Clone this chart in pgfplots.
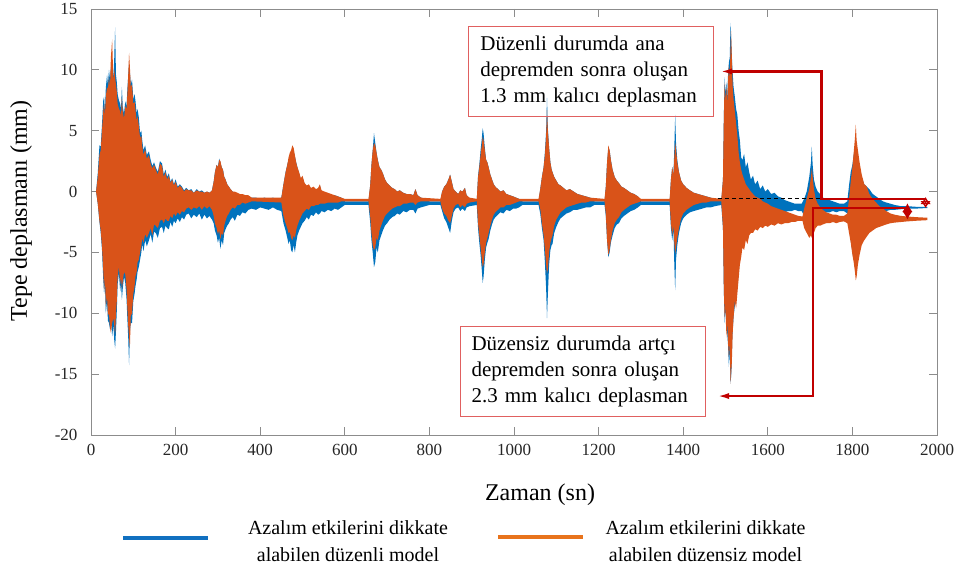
\documentclass[border=0pt]{standalone}
\usepackage{fontspec}
\setmainfont{Liberation Serif}
\usepackage{pgfplots}
\pgfplotsset{compat=1.18}
\usepackage{pgfplotstable}
\usepgfplotslibrary{fillbetween}
\usetikzlibrary{arrows.meta}

\definecolor{mblue}{HTML}{0072BD}
\definecolor{morange}{HTML}{D95319}
\definecolor{lblue}{HTML}{1170C0}
\definecolor{lorange}{HTML}{E8731C}
\definecolor{annred}{HTML}{C00000}
\definecolor{boxred}{HTML}{E06060}

% envelope of the regular model (upper / lower peaks)
\pgfplotstableread{
x up lo
0 0 0
12 0 0
16 1.5 -1.0
20 3.8 -2.5
23 3.7 -3.4
26 5.5 -4.8
29 7.5 -7.2
31 7.8 -8.4
33 6.5 -7.5
35 8.5 -10.0
38 9.6 -9.0
40 8.8 -10.6
42.5 10.0 -10.8
45 9.2 -11.3
47 10.2 -10.2
50 10.4 -11.9
53 9.4 -11.0
55 11.0 -12.2
57 13.5 -12.9
59 9.6 -11.5
61 9.0 -9.8
63 8.0 -7.6
66 7.5 -6.7
69 7.2 -8.2
71 6.8 -7.5
73 8.6 -8.9
75 7.0 -8.0
78 6.4 -7.0
81 7.4 -7.5
84 7.0 -8.8
86 8.4 -10.5
88 9.5 -12.0
90 10.5 -14.25
92 9.8 -11.5
94 8.8 -10.8
97 9.2 -10.8
100 7.6 -9.0
103 8.0 -8.4
105 7.5 -7.8
108 6.4 -7.2
110 6.8 -6.6
113 6.1 -6.2
116 4.8 -5.6
119 5.0 -5.0
121 4.25 -4.3
124 3.4 -4.9
128 3.8 -4.0
132 3.0 -4.5
137 3.3 -4.0
141 2.6 -3.5
145 2.1 -4.2
149 2.4 -3.3
153 2.0 -3.4
158 1.6 -3.8
163 2.5 -3.0
168 2.3 -2.9
172 1.4 -3.4
176 1.8 -2.8
180 1.2 -3.0
184 1.5 -3.1
188 0.8 -2.5
192 1.1 -2.9
196 0.6 -2.4
200 1.0 -2.6
205 0.4 -2.2
210 0.6 -2.5
215 0.4 -2.1
220 0.1 -2.3
225 0.3 -1.9
231 0.1 -1.8
237 0.2 -2.2
243 -0.1 -1.9
250 0.2 -2.1
256 0.0 -1.8
262 0.1 -2.3
268 -0.1 -1.9
274 0.0 -2.2
280 -0.1 -2.0
286 0.1 -2.3
290 0.8 -2.6
293 1.6 -3.2
297 2.2 -3.6
300 2.0 -4.2
303 2.7 -3.8
306 2.4 -4.7
309 2.0 -4.0
312 1.8 -4.4
315 1.2 -3.4
318 1.0 -3.1
322 0.6 -2.8
326 0.4 -2.6
330 0.2 -2.3
335 0.0 -2.1
340 -0.1 -2.4
346 -0.2 -1.9
352 -0.3 -2.0
358 -0.3 -1.7
365 -0.4 -1.8
372 -0.5 -1.5
380 -0.5 -1.4
390 -0.5 -1.5
400 -0.6 -1.3
410 -0.5 -1.4
420 -0.6 -1.5
430 -0.5 -1.3
440 -0.6 -1.5
450 -0.5 -1.6
455 0.6 -2.6
460 1.6 -3.2
464 2.2 -3.8
467 2.6 -4.3
470 2.9 -4.0
473 3.1 -4.8
476 3.4 -5.0
479 3.3 -4.4
482 2.9 -5.0
485 2.4 -4.2
488 2.0 -3.6
492 1.5 -3.2
496 1.0 -2.9
500 1.2 -2.6
505 0.6 -2.4
510 0.4 -2.1
515 0.5 -2.3
520 0.2 -1.9
526 0.3 -2.0
532 0.1 -1.7
537 0.2 -1.9
541 0.5 -1.8
545 0.0 -1.6
552 -0.1 -1.7
560 -0.2 -1.5
568 -0.3 -1.6
576 -0.3 -1.4
584 -0.4 -1.5
592 -0.5 -1.3
600 -0.8 -1.1
656 -0.8 -1.1
660 0.5 -2.5
663 2.2 -4.0
666 3.4 -5.0
669 4.8 -6.2
672 4.0 -5.8
675 3.2 -4.6
678 2.6 -5.0
682 2.0 -4.0
686 1.8 -3.6
690 1.5 -3.2
695 1.0 -2.8
700 0.7 -2.6
706 0.5 -2.3
712 0.3 -2.1
718 0.2 -2.0
724 0.0 -1.8
730 0.1 -1.9
738 -0.1 -1.6
746 -0.2 -1.7
754 -0.2 -1.5
762 -0.3 -1.5
767 0.2 -1.8
772 -0.3 -1.4
780 -0.5 -1.3
790 -0.6 -1.2
800 -0.8 -1.1
826 -0.8 -1.1
830 0.0 -1.6
835 0.4 -2.2
840 0.6 -2.5
845 1.0 -3.0
849 1.4 -3.4
853 0.8 -2.4
857 0.2 -1.7
862 0.0 -1.4
868 -0.2 -1.3
873 0.1 -1.6
878 0.0 -1.4
884 0.3 -1.6
888 -0.3 -1.3
895 -0.6 -1.2
912 -0.7 -1.1
915 1.3 -3.0
918 2.2 -4.2
921 3.4 -5.2
924 4.4 -6.5
926 5.2 -7.5
928 4.8 -7.0
931 3.6 -5.6
934 2.6 -4.6
937 2.4 -4.2
940 2.0 -3.9
944 1.4 -3.2
948 1.0 -2.7
952 0.6 -2.3
956 0.4 -2.1
962 0.2 -1.9
968 0.0 -1.7
975 0.1 -1.8
982 -0.2 -1.5
990 -0.3 -1.6
998 -0.4 -1.4
1005 -0.5 -1.4
1012 -0.6 -1.3
1020 -0.8 -1.1
1058 -0.8 -1.1
1062 0.2 -1.8
1066 1.2 -3.0
1070 2.0 -4.0
1073 3.2 -5.8
1076 5.0 -8.0
1078 7.7 -10.4
1080 5.2 -8.5
1083 3.6 -6.0
1086 2.4 -4.8
1089 1.8 -4.4
1091 1.6 -4.3
1095 1.2 -3.4
1100 0.9 -2.9
1105 0.6 -2.5
1110 0.5 -2.2
1117 0.3 -2.0
1124 0.1 -1.8
1132 0.2 -1.7
1141 0.0 -1.5
1150 -0.2 -1.5
1160 -0.3 -1.4
1170 -0.4 -1.3
1180 -0.5 -1.3
1190 -0.8 -1.1
1214 -0.8 -1.1
1217 0.4 -2.0
1220 2.4 -4.0
1223 3.6 -5.4
1226 3.4 -5.0
1229 2.6 -4.2
1233 1.8 -3.6
1238 1.2 -3.0
1243 0.9 -2.7
1248 0.7 -2.6
1254 0.4 -2.2
1260 0.3 -2.0
1268 0.1 -1.8
1276 -0.1 -1.6
1284 -0.2 -1.5
1293 -0.4 -1.3
1300 -0.8 -1.1
1368 -0.8 -1.1
1371 1.0 -3.0
1374 2.0 -4.0
1377 1.4 -3.2
1379 3.6 -6.0
1381 6.3 -8.1
1383 4.0 -5.6
1386 2.6 -4.4
1390 1.6 -3.4
1395 0.9 -2.6
1400 0.6 -2.2
1408 0.3 -1.9
1416 0.1 -1.7
1425 -0.1 -1.6
1435 -0.2 -1.5
1445 -0.3 -1.4
1455 -0.4 -1.3
1465 -0.5 -1.3
1475 -0.7 -1.2
1490 -0.8 -1.1
1494 1.0 -3.0
1496 6.0 -8.0
1498 9.4 -10.8
1500 8.0 -10.0
1502 9.0 -9.8
1504 7.6 -11.6
1506 9.6 -12.6
1508 10.6 -14.4
1510 11.0 -13.0
1512 13.85 -15.8
1514 12.0 -14.8
1516 10.3 -12.0
1519 8.6 -10.3
1522 7.8 -9.4
1525 6.8 -8.9
1528 6.3 -7.8
1531 5.0 -6.6
1534 4.2 -5.6
1537 2.8 -4.8
1540 2.6 -4.0
1544 3.1 -3.8
1548 2.0 -3.6
1552 2.4 -3.2
1556 1.6 -3.0
1560 1.0 -2.9
1565 1.3 -2.6
1570 0.6 -2.5
1576 0.9 -2.3
1582 0.2 -2.2
1588 0.5 -2.1
1594 0.0 -2.0
1600 0.2 -1.9
1608 -0.2 -1.8
1616 -0.1 -1.8
1624 -0.4 -1.7
1632 -0.5 -1.6
1640 -0.7 -1.7
1648 -0.8 -1.6
1656 -0.9 -1.6
1664 -1.0 -1.5
1672 -1.0 -1.6
1680 -1.0 -1.6
1686 -0.6 -2.0
1692 0.0 -2.6
1698 1.2 -3.2
1702 2.4 -3.0
1704 3.7 -3.2
1706 2.2 -2.8
1709 1.0 -2.6
1713 0.4 -2.3
1718 0.0 -2.1
1724 -0.2 -1.9
1730 -0.5 -1.8
1738 -0.6 -1.7
1746 -0.7 -1.7
1754 -0.8 -1.6
1762 -0.9 -1.7
1770 -1.0 -1.6
1780 -1.0 -1.6
1788 -0.8 -1.8
1792 0.5 -3.0
1796 1.6 -4.0
1800 2.2 -5.0
1803 3.0 -5.6
1806 3.6 -5.4
1808 4.0 -5.8
1810 3.2 -5.0
1813 2.6 -4.4
1817 2.0 -3.6
1822 1.2 -3.2
1828 0.6 -2.9
1834 0.4 -2.6
1840 0.2 -2.3
1848 -0.2 -2.0
1856 -0.4 -1.9
1864 -0.6 -1.8
1872 -0.8 -1.7
1880 -0.9 -1.6
1890 -1.0 -1.5
1900 -1.1 -1.5
1915 -1.2 -1.45
1930 -1.2 -1.4
1950 -1.25 -1.4
1977 -1.25 -1.35
}\regular

% envelope of the irregular model
\pgfplotstableread{
x up lo
0 0 0
12 0 0
16 1.2 -1.0
20 3.0 -2.4
23 3.4 -3.2
26 5.0 -4.5
29 6.6 -6.5
31 7.2 -8.2
33 6.2 -7.0
35 7.8 -9.4
38 8.6 -8.6
40 8.4 -10.2
42.5 9.4 -10.0
45 8.6 -11.2
47 11.0 -11.6
50 12.5 -10.8
53 9.0 -10.4
55 10.0 -11.0
57 9.4 -11.8
59 8.8 -10.0
61 8.2 -9.0
63 7.2 -7.0
66 6.8 -6.2
69 6.6 -7.6
71 6.2 -7.0
73 7.8 -8.0
75 6.6 -7.4
78 6.0 -6.6
81 7.0 -6.8
84 6.8 -8.0
86 8.0 -9.6
88 9.6 -11.0
90 11.4 -12.0
92 10.2 -12.8
94 8.6 -10.2
97 8.8 -10.0
100 7.2 -8.4
103 7.4 -7.8
105 6.8 -7.0
108 5.8 -6.6
110 6.2 -5.8
113 5.4 -5.6
116 4.4 -5.0
119 4.6 -4.5
121 3.8 -3.8
124 3.0 -4.2
128 3.5 -3.5
132 2.7 -3.8
137 3.0 -3.4
141 2.3 -3.0
145 1.9 -3.6
149 2.2 -2.7
153 1.8 -2.8
158 1.4 -3.0
163 2.3 -2.4
168 2.1 -2.3
172 1.2 -2.6
176 1.6 -2.2
180 1.0 -2.4
184 1.3 -2.4
188 0.7 -2.0
192 1.0 -2.2
196 0.5 -1.8
200 0.8 -2.0
205 0.3 -1.7
210 0.5 -1.9
215 0.3 -1.6
220 0.0 -1.7
225 0.2 -1.4
231 0.1 -1.3
237 0.1 -1.5
243 -0.1 -1.3
250 0.1 -1.4
256 0.0 -1.2
262 0.0 -1.5
268 -0.1 -1.2
274 0.0 -1.4
280 -0.1 -1.2
286 0.1 -1.5
290 0.8 -2.0
293 1.6 -2.6
297 2.2 -3.0
300 2.0 -3.5
303 2.6 -3.2
306 2.5 -3.9
309 2.0 -3.4
312 1.8 -3.6
315 1.2 -2.8
318 1.0 -2.4
322 0.6 -2.0
326 0.4 -1.8
330 0.2 -1.5
335 0.0 -1.3
340 0.0 -1.4
346 -0.1 -1.1
352 -0.2 -1.1
358 -0.2 -0.9
365 -0.3 -1.0
372 -0.3 -0.9
380 -0.5 -0.8
450 -0.5 -0.9
455 0.6 -2.0
460 1.6 -2.6
464 2.2 -3.0
467 2.8 -3.4
470 3.2 -3.3
473 3.4 -3.8
476 3.8 -4.0
479 3.6 -3.6
482 3.0 -3.8
485 2.4 -3.2
488 2.0 -2.8
492 1.6 -2.4
496 1.1 -2.1
500 1.3 -1.8
505 0.7 -1.6
510 0.5 -1.4
515 0.6 -1.5
520 0.3 -1.2
526 0.4 -1.2
532 0.2 -1.1
537 0.3 -1.1
541 0.6 -1.0
545 0.1 -1.0
552 0.0 -1.0
560 -0.1 -0.9
568 -0.2 -0.9
576 -0.3 -0.9
584 -0.4 -0.9
592 -0.5 -0.8
600 -0.6 -0.8
656 -0.6 -0.8
660 0.5 -2.0
663 2.2 -3.4
666 3.4 -4.4
669 4.0 -4.8
672 3.8 -4.6
675 3.2 -3.8
678 2.6 -4.0
682 2.0 -3.2
686 1.8 -2.8
690 1.5 -2.4
695 1.0 -2.0
700 0.7 -1.8
706 0.5 -1.6
712 0.3 -1.4
718 0.2 -1.3
724 0.0 -1.2
730 0.1 -1.2
738 -0.1 -1.0
746 -0.2 -1.0
754 -0.2 -0.9
762 -0.3 -0.9
767 0.2 -1.1
772 -0.3 -0.9
780 -0.5 -0.8
826 -0.6 -0.8
830 0.0 -1.4
835 0.4 -1.8
840 0.6 -2.0
845 1.0 -2.4
849 1.4 -2.6
853 0.8 -2.0
857 0.2 -1.4
862 0.0 -1.1
868 -0.2 -1.0
873 0.1 -1.3
878 0.0 -1.1
884 0.3 -1.3
888 -0.3 -1.0
895 -0.5 -0.9
912 -0.6 -0.8
915 1.2 -2.6
918 2.0 -3.6
921 3.0 -4.6
924 3.8 -5.6
926 4.5 -6.2
928 4.2 -6.0
931 3.4 -5.0
934 2.6 -4.2
937 2.4 -3.8
940 2.0 -3.4
944 1.4 -2.8
948 1.0 -2.3
952 0.6 -1.9
956 0.4 -1.7
962 0.2 -1.5
968 0.0 -1.3
975 0.1 -1.3
982 -0.2 -1.1
990 -0.3 -1.1
998 -0.4 -1.0
1005 -0.5 -0.9
1012 -0.6 -0.8
1058 -0.6 -0.8
1062 0.2 -1.4
1066 1.2 -2.6
1070 2.0 -3.6
1073 3.0 -4.8
1076 4.6 -6.0
1078 6.7 -6.7
1080 5.0 -6.4
1083 3.6 -5.0
1086 2.4 -4.2
1089 1.8 -3.8
1091 1.6 -3.6
1095 1.2 -2.8
1100 0.9 -2.3
1105 0.6 -2.0
1110 0.5 -1.7
1117 0.3 -1.5
1124 0.1 -1.3
1132 0.2 -1.2
1141 0.0 -1.1
1150 -0.2 -1.0
1160 -0.3 -0.9
1170 -0.4 -0.9
1180 -0.5 -0.8
1214 -0.6 -0.8
1217 0.4 -1.8
1220 2.4 -4.0
1223 3.8 -5.2
1226 3.4 -4.8
1229 2.6 -4.0
1233 1.8 -3.2
1238 1.2 -2.6
1243 0.9 -2.3
1248 0.7 -2.1
1254 0.4 -1.7
1260 0.3 -1.5
1268 0.1 -1.3
1276 -0.1 -1.1
1284 -0.2 -1.0
1293 -0.4 -0.9
1300 -0.6 -0.8
1368 -0.6 -0.8
1371 1.0 -2.6
1374 2.0 -3.6
1377 1.4 -2.8
1379 2.8 -4.2
1381 4.0 -5.1
1383 3.4 -4.6
1386 2.4 -3.8
1390 1.6 -3.0
1395 0.9 -2.2
1400 0.6 -1.8
1408 0.3 -1.5
1416 0.1 -1.3
1425 -0.1 -1.1
1435 -0.2 -1.0
1445 -0.3 -0.9
1455 -0.4 -0.9
1465 -0.5 -0.8
1490 -0.6 -0.8
1494 1.0 -3.0
1496 6.0 -8.0
1498 9.0 -10.4
1500 7.4 -9.4
1502 8.6 -12.0
1504 7.2 -10.8
1506 9.2 -12.4
1508 10.4 -13.6
1510 9.2 -12.4
1512 12.0 -15.8
1513 13.2 -15.2
1515 11.0 -14.0
1517 8.6 -11.6
1519 7.6 -10.4
1522 6.6 -9.0
1525 5.6 -9.6
1528 4.6 -8.4
1531 3.2 -7.2
1534 2.4 -6.0
1537 1.8 -5.4
1540 1.4 -4.6
1544 1.0 -4.8
1548 0.6 -4.0
1552 0.4 -4.3
1556 0.2 -3.6
1560 0.0 -3.4
1565 -0.2 -3.4
1570 -0.4 -3.1
1576 -0.5 -3.2
1582 -0.6 -2.9
1588 -0.8 -3.0
1594 -0.9 -2.8
1600 -1.0 -2.9
1608 -1.2 -2.7
1616 -1.3 -2.8
1624 -1.4 -2.6
1632 -1.5 -2.7
1640 -1.6 -2.6
1648 -1.7 -2.6
1656 -1.8 -2.5
1664 -1.9 -2.5
1672 -2.0 -2.4
1682 -2.05 -2.4
1686 -1.4 -3.0
1692 -0.6 -3.4
1698 0.2 -3.8
1702 1.2 -3.6
1704 1.9 -3.8
1706 1.2 -3.6
1709 0.2 -3.4
1713 -0.6 -3.0
1718 -1.0 -2.8
1724 -1.3 -2.8
1730 -1.5 -2.7
1738 -1.7 -2.6
1746 -1.8 -2.6
1754 -1.9 -2.5
1762 -1.9 -2.6
1770 -2.0 -2.5
1780 -2.0 -2.45
1788 -1.8 -2.6
1792 -0.6 -3.4
1796 0.8 -4.2
1800 2.0 -5.2
1803 3.2 -5.8
1806 4.4 -6.6
1808 5.5 -7.3
1810 4.2 -7.0
1813 3.4 -6.0
1817 2.4 -5.2
1822 1.4 -4.4
1828 0.6 -4.0
1834 0.4 -3.7
1840 -0.2 -3.4
1848 -0.6 -3.2
1856 -0.9 -3.0
1864 -1.2 -2.9
1872 -1.4 -2.8
1880 -1.6 -2.7
1890 -1.8 -2.6
1900 -1.9 -2.55
1915 -2.0 -2.5
1930 -2.05 -2.45
1950 -2.1 -2.4
1977 -2.15 -2.35
}\irregular

\begin{document}
\begin{tikzpicture}
\begin{axis}[
    scale only axis,
    width=846pt, height=426pt,
    xmin=0, xmax=2000, ymin=-20, ymax=15,
    xtick={0,200,...,2000},
    xticklabels={0,200,400,600,800,1000,1200,1400,1600,1800,2000},
    ytick={-20,-15,...,15},
    yticklabels={-20,-15,-10,-5,0,5,10,15},
    tick align=inside,
    major tick length=8pt,
    axis line style={black!45, line width=0.8pt},
    tick style={black!45, line width=0.8pt},
    tick label style={font=\fontsize{17}{20}\selectfont, text=black!85},
    xticklabel style={yshift=-6pt},
    yticklabel style={xshift=-10pt},
    clip=false,
]
% regular model
\addplot[draw=none, name path=ru] table[x=x, y=up] {\regular};
\addplot[draw=none, name path=rl] table[x=x, y=lo] {\regular};
\addplot[mblue] fill between[of=ru and rl];
% irregular model
\addplot[draw=none, name path=iu] table[x=x, y=up] {\irregular};
\addplot[draw=none, name path=il] table[x=x, y=lo] {\irregular};
\addplot[morange] fill between[of=iu and il];

% annotations
\draw[black, line width=1.1pt, dash pattern=on 4pt off 3pt]
    (axis cs:1482,-0.58) -- (axis cs:1727,-0.58);
\draw[annred, line width=2.2pt, -{Latex[length=12pt,width=6pt]}]
    (axis cs:1973,-0.58) -- (axis cs:1727,-0.58) -- (axis cs:1727,9.87) -- (axis cs:1487,9.87);
\draw[annred, line width=2.2pt, -{Latex[length=12pt,width=6pt]}]
    (axis cs:1930,-1.32) -- (axis cs:1706,-1.32) -- (axis cs:1706,-16.8) -- (axis cs:1480,-16.8);
\draw[annred, line width=2pt, {Latex[length=9pt,width=11pt]}-{Latex[length=8pt,width=10pt]}]
    (axis cs:1930,-0.95) -- (axis cs:1930,-2.3);
\draw[annred, line width=1.8pt, {Latex[open,length=7pt,width=11pt]}-{Latex[open,length=7pt,width=11pt]}]
    (axis cs:1973,-0.45) -- (axis cs:1973,-1.35);

\node[draw=boxred, line width=0.9pt, minimum width=245pt, minimum height=90pt,
      text width=222pt, align=left, inner sep=0pt,
      font=\fontsize{21}{26}\selectfont]
    at (axis cs:1183,9.84)
    {Düzenli durumda ana\\depremden sonra oluşan\\1.3 mm kalıcı deplasman};
\node[draw=boxred, line width=0.9pt, minimum width=245pt, minimum height=90pt,
      text width=222pt, align=left, inner sep=0pt,
      font=\fontsize{21}{26}\selectfont]
    at (axis cs:1162,-14.79)
    {Düzensiz durumda artçı\\depremden sonra oluşan\\2.3 mm kalıcı deplasman};
\end{axis}

% axis titles
\node[rotate=90, font=\fontsize{24}{28}\selectfont] at (-70pt,224pt) {Tepe deplasmanı (mm)};
\node[font=\fontsize{24}{28}\selectfont] at (449pt,-60pt) {Zaman (sn)};

% legend
\draw[lblue, line width=4pt] (32pt,-103pt) -- (117pt,-103pt);
\node[align=center, font=\fontsize{20}{27}\selectfont] at (257pt,-106.5pt)
    {Azalım etkilerini dikkate\\alabilen düzenli model};
\draw[lorange, line width=4pt] (407pt,-102pt) -- (492pt,-102pt);
\node[align=center, font=\fontsize{20}{27}\selectfont] at (614.5pt,-106.5pt)
    {Azalım etkilerini dikkate\\alabilen düzensiz model};

\pgfresetboundingbox
\path (-91pt,-132pt) rectangle (864pt,435pt);
\end{tikzpicture}
\end{document}
